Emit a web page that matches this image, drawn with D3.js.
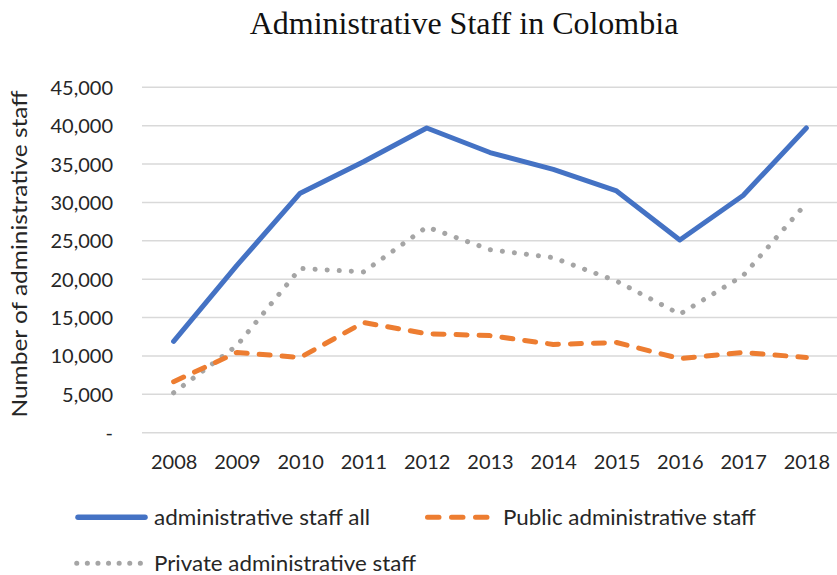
<!DOCTYPE html>
<html>
<head>
<meta charset="utf-8">
<script src="https://cdn.jsdelivr.net/npm/d3@7/dist/d3.min.js"></script>
<style>
  html, body { margin: 0; padding: 0; background: #fff; }
  svg { display: block; }
</style>
</head>
<body>
<svg id="chart" width="837" height="575"></svg>
<script>
// Administrative staff in Colombia, 2008–2018
const years = ["2008","2009","2010","2011","2012","2013","2014","2015","2016","2017","2018"];
const staffAll     = [11900, 21800, 31200, 35300, 39700, 36500, 34300, 31500, 25100, 30900, 39700];
const staffPublic  = [6650, 10450, 9800, 14350, 12900, 12650, 11500, 11750, 9650, 10450, 9800];
const staffPrivate = [5200, 11350, 21400, 20950, 26800, 23850, 22800, 19750, 15450, 20450, 29900];
const yTicks = [0, 5000, 10000, 15000, 20000, 25000, 30000, 35000, 40000, 45000];
const seriesNames = ["administrative staff all", "Public administrative staff", "Private administrative staff"];

const svg = d3.select("#chart");
const font = "Lato, 'Open Sans', sans-serif";
const textColor = "#262626";

const plot = { left: 142, right: 838, top: 87.3, bottom: 432.7 };

const x = d3.scalePoint().domain(years).range([plot.left, plot.right]).padding(0.5);
const y = d3.scaleLinear().domain([0, 45000]).range([plot.bottom, plot.top]);

// Title
svg.append("text")
  .attr("x", 464).attr("y", 34)
  .attr("text-anchor", "middle")
  .style("font-family", "'Liberation Serif', 'Times New Roman', serif")
  .style("font-size", "32px")
  .attr("fill", "#111")
  .text("Administrative Staff in Colombia");

// Gridlines
svg.append("g")
  .selectAll("line")
  .data(yTicks)
  .join("line")
  .attr("x1", plot.left).attr("x2", plot.right)
  .attr("y1", d => y(d)).attr("y2", d => y(d))
  .attr("stroke", "#d9d9d9").attr("stroke-width", 1.5);

// Y axis labels
const fmt = d3.format(",");
const yAxis = d3.axisLeft(y).tickValues(yTicks).tickSize(0).tickPadding(0)
  .tickFormat(d => d === 0 ? "-" : fmt(d));
const gy = svg.append("g").attr("transform", "translate(113,0)").call(yAxis);
gy.select(".domain").remove();
gy.selectAll("text")
  .style("font-family", font).style("font-size", "20px").attr("fill", textColor)
  .attr("dy", "0.35em");

// X axis labels
const xAxis = d3.axisBottom(x).tickSize(0).tickPadding(0);
const gx = svg.append("g").attr("transform", "translate(0,455)").call(xAxis);
gx.select(".domain").remove();
gx.selectAll("text")
  .style("font-family", font).style("font-size", "20px").attr("fill", textColor)
  .attr("dy", "0.71em");

// Y axis title
svg.append("text")
  .attr("transform", "translate(27,254) rotate(-90)")
  .attr("text-anchor", "middle")
  .attr("textLength", 327).attr("lengthAdjust", "spacingAndGlyphs")
  .style("font-family", font).style("font-size", "22px").attr("fill", textColor)
  .text("Number of administrative staff");

// Series lines
const line = d3.line().x((d, i) => x(years[i])).y(d => y(d));

const styles = [
  { color: "#4472c4", dash: null, legendDash: null },
  { color: "#ed7d31", dash: "11 12", legendDash: "11.5 12.5" },
  { color: "#a5a5a5", dash: "0.1 12", legendDash: "0.1 10.5" }
];
const data = [staffAll, staffPublic, staffPrivate];

// private first, then public, then all on top
[2, 1, 0].forEach(k => {
  svg.append("path")
    .datum(data[k])
    .attr("d", line)
    .attr("fill", "none")
    .attr("stroke", styles[k].color)
    .attr("stroke-width", 5)
    .attr("stroke-linecap", "round")
    .attr("stroke-linejoin", "round")
    .attr("stroke-dasharray", styles[k].dash);
});

// Legend
const legendItems = [
  { x1: 78, x2: 145, y: 517.3, textX: 154, len: 216 },
  { x1: 427.5, x2: 487, y: 517.3, textX: 503, len: 253 },
  { x1: 76.7, x2: 140.5, y: 563.3, textX: 154, len: 262 }
];
legendItems.forEach((it, k) => {
  svg.append("line")
    .attr("x1", it.x1).attr("x2", it.x2)
    .attr("y1", it.y).attr("y2", it.y)
    .attr("stroke", styles[k].color)
    .attr("stroke-width", k === 0 ? 5.5 : 5)
    .attr("stroke-linecap", "round")
    .attr("stroke-dasharray", styles[k].legendDash);
  svg.append("text")
    .attr("x", it.textX).attr("y", it.y)
    .attr("dy", "0.35em")
    .attr("textLength", it.len).attr("lengthAdjust", "spacingAndGlyphs")
    .style("font-family", font).style("font-size", "22px").attr("fill", textColor)
    .text(seriesNames[k]);
});
</script>
</body>
</html>
